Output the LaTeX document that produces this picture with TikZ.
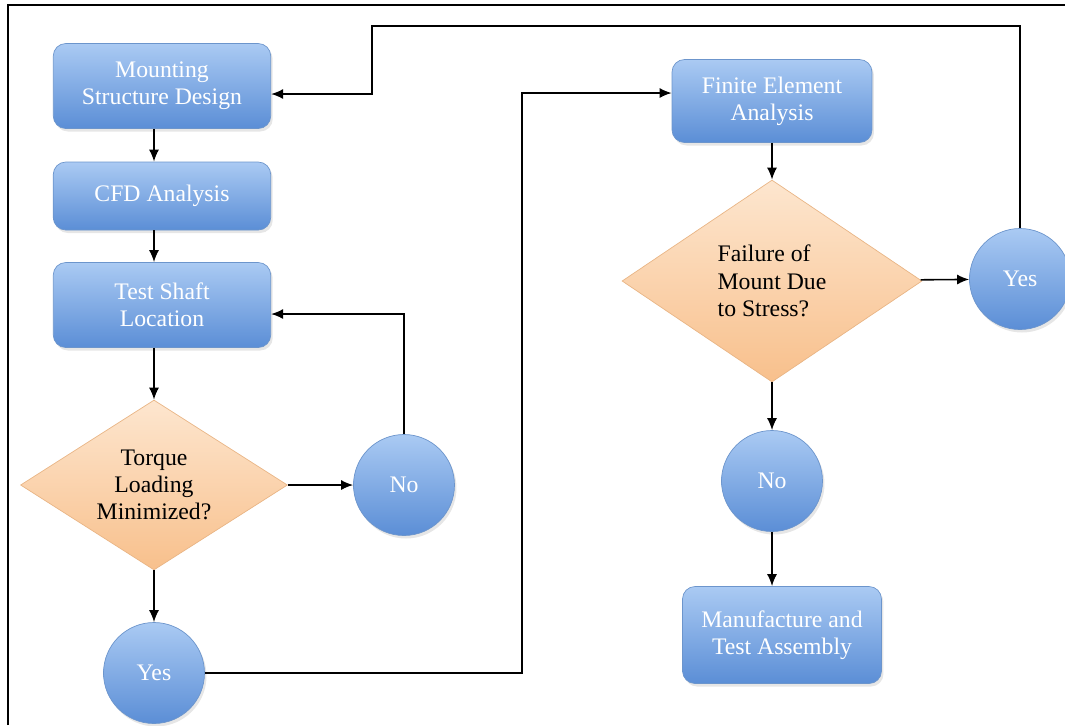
\documentclass[tikz,border=0pt]{standalone}
\usepackage{fontspec}
\setmainfont{Liberation Serif}
\usepackage{tikz}
\usetikzlibrary{shapes.geometric}
\usetikzlibrary{arrows.meta}
\usetikzlibrary{shadows}

\definecolor{boxtop}{HTML}{AACAF3}
\definecolor{boxbot}{HTML}{5B8ED6}
\definecolor{boxline}{HTML}{6C95CC}
\definecolor{dectop}{HTML}{FDE6CF}
\definecolor{decbot}{HTML}{F8C08C}
\definecolor{decline}{HTML}{E9B585}

\tikzset{every edge/.style={draw, line width=0.9pt}}
\tikzset{
  stepbox/.style={rectangle, rounded corners=2.5mm, draw=boxline, top color=boxtop, bottom color=boxbot,
    text=white, align=center, minimum width=4.35cm, inner sep=2pt,
    font=\fontsize{13.5}{15.5}\selectfont, drop shadow={opacity=0.2, shadow xshift=0.4mm, shadow yshift=-0.6mm}},
  answer/.style={circle, draw=boxline, top color=boxtop, bottom color=boxbot, text=white,
    minimum size=2.02cm, inner sep=0pt, font=\fontsize{13.5}{15.5}\selectfont,
    drop shadow={opacity=0.2, shadow xshift=0.4mm, shadow yshift=-0.6mm}},
  query/.style={diamond, draw=decline, top color=dectop, bottom color=decbot, text=black,
    align=center, inner sep=0pt, font=\fontsize{13.5}{15.5}\selectfont},
}

\begin{document}
\begin{tikzpicture}[x=0.02cm, y=-0.02cm, >={Latex[length=2.4mm,width=2mm]}]   % pixel grid
    \path[use as bounding box] (0,0) rectangle (1065,725);
    \begin{scope}
    \clip (0,0) rectangle (1065,725);
    \draw[line width=1.4pt] (8,725) -- (8,5) -- (1065,5);

    \node[stepbox, minimum height=1.7cm] at (162,86)  (msd) {Mounting\\Structure Design};
    \node[stepbox, minimum height=1.36cm] at (162,196) (cfd) {CFD Analysis};
    \node[stepbox, minimum height=1.7cm] at (162,305) (tsl) {Test Shaft\\Location};
    \node[query, aspect=1.57, minimum width=5.34cm, minimum height=3.4cm] at (154,485) (torque) {Torque\\Loading\\Minimized?};
    \node[answer] at (404,485) (noA) {No};
    \node[answer] at (154,673) (yesA) {Yes};

    \node[stepbox, minimum width=4cm, minimum height=1.66cm] at (772,101) (fea) {Finite Element\\Analysis};
    \node[query, aspect=1.49, minimum width=6cm, minimum height=4.04cm, align=left] at (772,281) (fail) {Failure of\\Mount Due\\to Stress?};
    \node[answer] at (1020,279) (yesB) {Yes};
    \node[answer] at (772,481) (noB) {No};
    \node[stepbox, minimum width=3.98cm, minimum height=1.94cm] at (782,635) (mta) {Manufacture and\\Test Assembly};

    \coordinate (noUp) at (404,314);
    \coordinate (turnA) at (522,93);
    \coordinate (topR) at (1020,26);
    \coordinate (topL) at (372,26);
    \coordinate (topD) at (372,94);

    \draw (msd.south -| torque) edge[->] (cfd.north -| torque);
    \draw (cfd.south -| torque) edge[->] (tsl.north -| torque);
    \draw (tsl.south -| torque) edge[->] (torque);
    \draw (torque) edge[->] (noA);
    \draw (torque) edge[->] (yesA);
    \draw[->, line width=0.9pt] (noA.north) -- (noUp) -- (noUp -| tsl.east);
    \draw[->, line width=0.9pt] (yesA.east) -| (turnA) -- (turnA -| fea.west);

    \draw (fea) edge[->] (fail);
    \draw (fail) edge[->] (yesB);
    \draw (fail) edge[->] (noB);
    \draw (noB) edge[->] (noB |- mta.north);
    \draw[->, line width=0.9pt] (yesB.north) -- (topR) -- (topL) -- (topD) -- (topD -| msd.east);
    \end{scope}
\end{tikzpicture}
\end{document}
